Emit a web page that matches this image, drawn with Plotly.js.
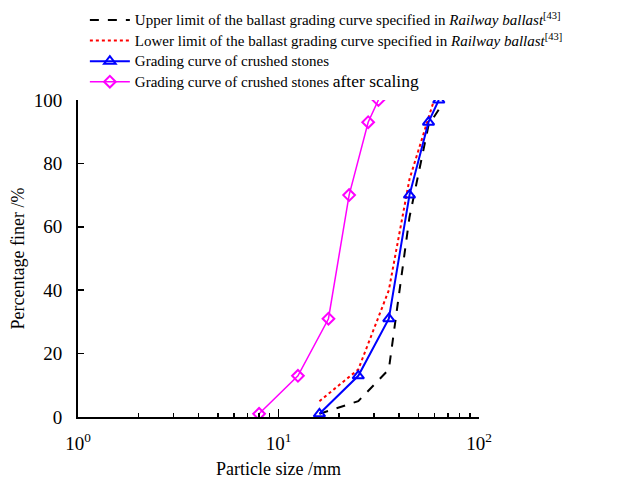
<!DOCTYPE html>
<html>
<head>
<meta charset="utf-8">
<script src="https://cdn.plot.ly/plotly-3.0.1.min.js"></script>
<style>html,body{margin:0;padding:0;background:#fff;}#chart{width:624px;height:479px;}</style>
</head>
<body>
<div id="chart"></div>
<script>
// Data
const upperX = [16, 25, 35.5, 45, 56, 63];
const upperY = [1, 5, 15, 63, 92, 97];
const lowerX = [16, 25, 35.5, 45, 59];
const lowerY = [5, 15, 40, 75, 99];
const crushedX = [16, 25, 35.5, 45, 56, 63];
const crushedY = [1, 13, 31, 70, 93, 100];
const scaledX = [8, 12.5, 17.75, 22.5, 28, 31.5];
const scaledY = [1, 13, 31, 70, 93, 100];
const xTickVals = [1, 10, 100];
const xTickText = ['10<sup>0</sup>', '10<sup>1</sup>', '10<sup>2</sup>'];
const xMinorVals = [2, 3, 4, 5, 6, 7, 8, 9, 20, 30, 40, 50, 60, 70, 80, 90];
const names = [
  '<span style="font-size:15px">Upper limit of the ballast grading curve specified in <i>Railway ballast</i><sup>[43]</sup></span>',
  '<span style="font-size:15px">Lower limit of the ballast grading curve specified in <i>Railway ballast</i><sup>[43]</sup></span>',
  '<span style="font-size:15px">Grading curve of crushed stones</span>',
  '<span style="font-size:15px">Grading curve of crushed stones </span><span style="font-size:17.5px">after scaling</span>'
];
const xTitle = 'Particle size /mm';
const yTitle = 'Percentage finer /%';

const font = 'Liberation Serif';
const traces = [
  {x: upperX, y: upperY, name: names[0], mode: 'lines', line: {color: '#000000', width: 2, dash: 'dash'}},
  {x: lowerX, y: lowerY, name: names[1], mode: 'lines', line: {color: '#ff0000', width: 2, dash: 'dot'}},
  {x: crushedX, y: crushedY, name: names[2], mode: 'lines+markers', line: {color: '#0000ff', width: 2},
   marker: {symbol: 'triangle-up-open', size: 10, color: '#0000ff', line: {width: 2, color: '#0000ff'}}},
  {x: scaledX, y: scaledY, name: names[3], mode: 'lines+markers', line: {color: '#ff00ff', width: 1.5},
   marker: {symbol: 'diamond-open', size: 9, color: '#ff00ff', line: {width: 2, color: '#ff00ff'}}}
];

const layout = {
  width: 624, height: 479,
  margin: {l: 78, r: 145, t: 100, b: 62, autoexpand: false},
  paper_bgcolor: '#fff', plot_bgcolor: '#fff',
  font: {family: font, size: 18, color: '#000'},
  showlegend: true,
  legend: {xref: 'container', yref: 'container', x: 0.136, y: 0.99, xanchor: 'left', yanchor: 'top',
           bgcolor: 'rgba(0,0,0,0)', borderwidth: 0,
           font: {family: font, size: 13.5, color: '#000'}, tracegroupgap: 0, itemwidth: 40},
  xaxis: {
    type: 'log', range: [0, 2], automargin: false,
    tickvals: xTickVals, ticktext: xTickText,
    ticks: 'inside', ticklen: 8, tickwidth: 1.5, tickcolor: '#000',
    showline: true, linecolor: '#000', linewidth: 2, mirror: false,
    showgrid: false, zeroline: false,
    ticklabelstandoff: 8,
    tickfont: {family: font, size: 19, color: '#000'},
    minor: {tickvals: xMinorVals, ticks: 'inside', ticklen: 4, tickwidth: 1.5, tickcolor: '#000', showgrid: false},
    title: {text: xTitle, font: {family: font, size: 18, color: '#000'}, standoff: 12}
  },
  yaxis: {
    range: [0, 100], dtick: 20, automargin: false,
    ticks: 'inside', ticklen: 6, tickwidth: 1.5, tickcolor: '#000',
    showline: true, linecolor: '#000', linewidth: 2, mirror: false,
    showgrid: false, zeroline: false,
    ticklabelstandoff: 10,
    tickfont: {family: font, size: 19, color: '#000'}
  },
  annotations: [{
    text: yTitle, xref: 'paper', yref: 'paper', x: -0.152, y: 0.5,
    xanchor: 'center', yanchor: 'middle', textangle: -90, showarrow: false,
    font: {family: font, size: 18, color: '#000'}
  }]
};

Plotly.newPlot('chart', traces, layout, {displayModeBar: false, staticPlot: true});
</script>
</body>
</html>
